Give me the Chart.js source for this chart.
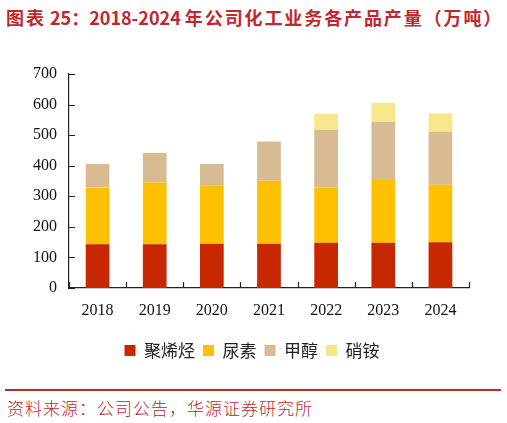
<!DOCTYPE html>
<html>
<head>
<meta charset="utf-8">
<script src="https://cdn.jsdelivr.net/npm/chart.js@4.4.1/dist/chart.umd.min.js"></script>
<style>
  html, body { margin: 0; padding: 0; background: #fff; }
  body { width: 507px; height: 423px; position: relative; overflow: hidden; }
  #title {
    position: absolute; left: 6px; top: 5px;
    font-family: "Noto Sans CJK SC", sans-serif; font-weight: bold;
    font-size: 18px; line-height: 24px; color: #c0282e; white-space: nowrap;
  }
  #title .cjk { letter-spacing: 1.9px; }
  #wrap { position: absolute; left: 0; top: 0; width: 507px; height: 380px; }
  #rule { position: absolute; left: 5px; top: 389px; width: 496px; height: 2px; background: #c0282e; }
  #source {
    position: absolute; left: 7px; top: 397px;
    font-family: "Noto Sans CJK SC", sans-serif; font-weight: 300;
    font-size: 17px; line-height: 22px; color: #c0282e; white-space: nowrap;
    letter-spacing: 1px;
  }
</style>
</head>
<body>
<div id="title"><span class="cjk">图表</span> 25：2018-2024 <span class="cjk">年公司化工业务各产品产量（万吨）</span></div>
<div id="wrap"><canvas id="chart"></canvas></div>
<div id="rule"></div>
<div id="source">资料来源：公司公告，华源证券研究所</div>
<script>
// 年份与各产品产量（万吨）
const years = ['2018', '2019', '2020', '2021', '2022', '2023', '2024'];
const polyolefin = [143, 143, 145, 145, 148, 148, 150];
const urea = [186, 202, 189, 206, 181, 205, 188];
const methanol = [77, 97, 72, 128, 189, 191, 173];
const ammoniumNitrate = [0, 0, 0, 0, 52, 62, 60];
const seriesNames = ['聚烯烃', '尿素', '甲醇', '硝铵'];
const yTicks = [0, 100, 200, 300, 400, 500, 600, 700];

const colors = ['#c82800', '#ffc000', '#d8bb93', '#f7e78b'];
const serif = "'Liberation Serif', 'Times New Roman', serif";

// 坐标轴向内的小刻度
const innerTicks = {
  id: 'innerTicks',
  afterDraw(chart) {
    const { ctx, scales: { x, y }, chartArea } = chart;
    ctx.save();
    ctx.strokeStyle = '#222';
    ctx.lineWidth = 1.2;
    ctx.beginPath();
    yTicks.forEach(v => {
      const py = Math.round(y.getPixelForValue(v)) + 0.5;
      ctx.moveTo(chartArea.left, py);
      ctx.lineTo(chartArea.left + 6, py);
    });
    for (let i = 0; i <= years.length; i++) {
      const px = Math.round(x.getPixelForValue(i - 0.5)) + 0.5;
      ctx.moveTo(px, chartArea.bottom);
      ctx.lineTo(px, chartArea.bottom - 6);
    }
    ctx.stroke();
    ctx.restore();
  }
};

const data = [polyolefin, urea, methanol, ammoniumNitrate];

new Chart(document.getElementById('chart'), {
  type: 'bar',
  data: {
    labels: years,
    datasets: data.map((d, i) => ({
      label: seriesNames[i],
      data: d,
      backgroundColor: colors[i],
      borderWidth: 0,
      barPercentage: 0.415,
      categoryPercentage: 1
    }))
  },
  options: {
    responsive: true,
    maintainAspectRatio: false,
    animation: false,
    layout: { padding: { top: 74, right: 3, bottom: 11, left: 0 } },
    plugins: {
      tooltip: { enabled: false },
      legend: {
        position: 'bottom',
        labels: {
          boxWidth: 11,
          boxHeight: 11,
          padding: 8,
          color: '#222',
          font: { family: '"Noto Sans CJK SC", sans-serif', size: 17 }
        }
      }
    },
    scales: {
      x: {
        stacked: true,
        grid: { display: false, drawTicks: false },
        border: { display: true, color: '#222', width: 1.2 },
        ticks: { color: '#111', padding: 13, font: { family: serif, size: 16 } },
        afterFit(s) { s.height = 46; }
      },
      y: {
        stacked: true,
        min: 0,
        max: 700,
        grid: { display: false, drawTicks: false },
        border: { display: true, color: '#222', width: 1.2 },
        ticks: {
          stepSize: 100,
          color: '#111',
          padding: 12,
          font: { family: serif, size: 16 }
        },
        afterFit(s) { s.width = 69; }
      },
      // 右侧留白用的空轴
      yRight: {
        position: 'right',
        display: true,
        grid: { display: false, drawTicks: false },
        border: { display: false },
        ticks: { display: false },
        afterFit(s) { s.width = 35; }
      }
    }
  },
  plugins: [innerTicks]
});
</script>
</body>
</html>
